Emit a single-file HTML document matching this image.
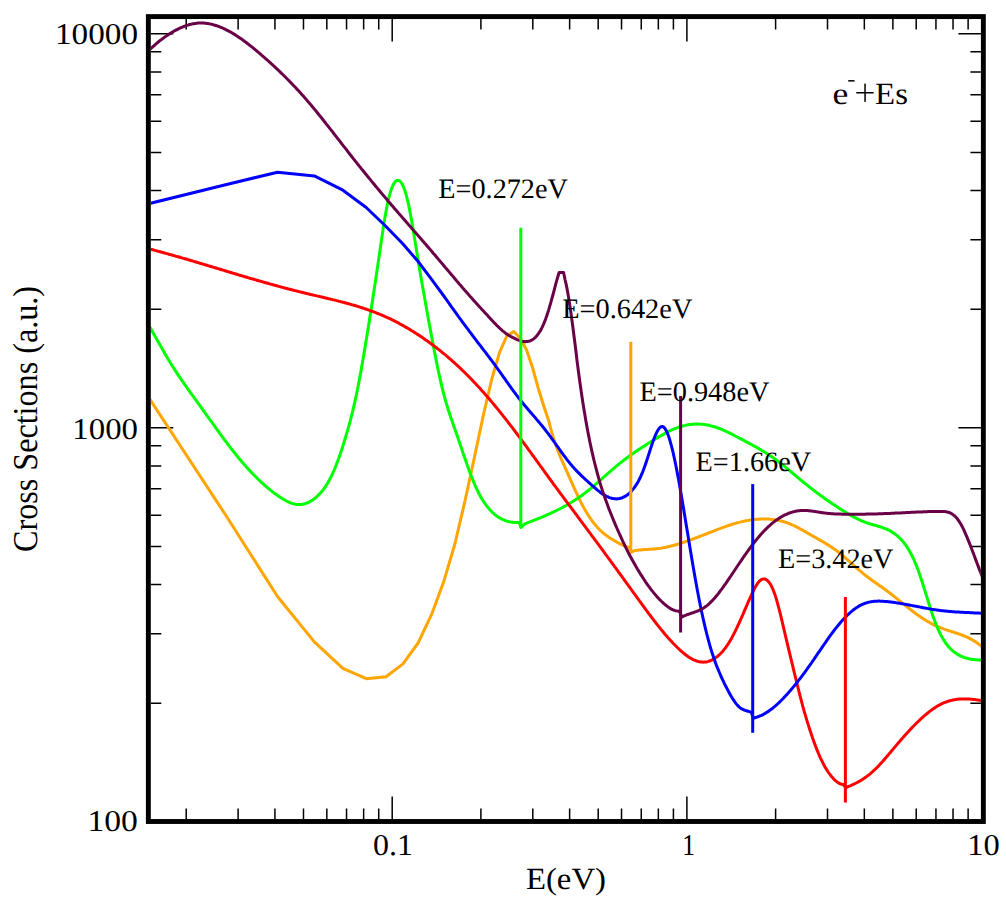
<!DOCTYPE html>
<html><head><meta charset="utf-8"><style>
html,body{margin:0;padding:0;background:#fff;}
svg{display:block;}
text{font-family:"Liberation Serif", serif; fill:#000;}
</style></head><body>
<svg width="1006" height="909" viewBox="0 0 1006 909" text-rendering="geometricPrecision">
<rect width="1006" height="909" fill="#fff"/>

<path d="M150.80 703.19L161.30 703.19M980.90 703.19L970.40 703.19M150.80 633.81L161.30 633.81M980.90 633.81L970.40 633.81M150.80 584.59L161.30 584.59M980.90 584.59L970.40 584.59M150.80 546.41L161.30 546.41M980.90 546.41L970.40 546.41M150.80 515.21L161.30 515.21M980.90 515.21L970.40 515.21M150.80 488.83L161.30 488.83M980.90 488.83L970.40 488.83M150.80 465.98L161.30 465.98M980.90 465.98L970.40 465.98M150.80 445.83L161.30 445.83M980.90 445.83L970.40 445.83M150.80 309.19L161.30 309.19M980.90 309.19L970.40 309.19M150.80 239.81L161.30 239.81M980.90 239.81L970.40 239.81M150.80 190.59L161.30 190.59M980.90 190.59L970.40 190.59M150.80 152.41L161.30 152.41M980.90 152.41L970.40 152.41M150.80 121.21L161.30 121.21M980.90 121.21L970.40 121.21M150.80 94.83L161.30 94.83M980.90 94.83L970.40 94.83M150.80 71.98L161.30 71.98M980.90 71.98L970.40 71.98M150.80 51.83L161.30 51.83M980.90 51.83L970.40 51.83M150.80 427.80L173.30 427.80M980.90 427.80L958.40 427.80M150.80 33.80L173.30 33.80M980.90 33.80L958.40 33.80M186.21 819.05L186.21 808.55M186.21 19.05L186.21 29.55M238.11 819.05L238.11 808.55M238.11 19.05L238.11 29.55M274.93 819.05L274.93 808.55M274.93 19.05L274.93 29.55M303.49 819.05L303.49 808.55M303.49 19.05L303.49 29.55M326.82 819.05L326.82 808.55M326.82 19.05L326.82 29.55M346.55 819.05L346.55 808.55M346.55 19.05L346.55 29.55M363.64 819.05L363.64 808.55M363.64 19.05L363.64 29.55M378.72 819.05L378.72 808.55M378.72 19.05L378.72 29.55M392.20 819.05L392.20 796.55M392.20 19.05L392.20 41.55M480.91 819.05L480.91 808.55M480.91 19.05L480.91 29.55M532.81 819.05L532.81 808.55M532.81 19.05L532.81 29.55M569.63 819.05L569.63 808.55M569.63 19.05L569.63 29.55M598.19 819.05L598.19 808.55M598.19 19.05L598.19 29.55M621.52 819.05L621.52 808.55M621.52 19.05L621.52 29.55M641.25 819.05L641.25 808.55M641.25 19.05L641.25 29.55M658.34 819.05L658.34 808.55M658.34 19.05L658.34 29.55M673.42 819.05L673.42 808.55M673.42 19.05L673.42 29.55M686.90 819.05L686.90 796.55M686.90 19.05L686.90 41.55M775.61 819.05L775.61 808.55M775.61 19.05L775.61 29.55M827.51 819.05L827.51 808.55M827.51 19.05L827.51 29.55M864.33 819.05L864.33 808.55M864.33 19.05L864.33 29.55M892.89 819.05L892.89 808.55M892.89 19.05L892.89 29.55M916.22 819.05L916.22 808.55M916.22 19.05L916.22 29.55M935.95 819.05L935.95 808.55M935.95 19.05L935.95 29.55M953.04 819.05L953.04 808.55M953.04 19.05L953.04 29.55M968.12 819.05L968.12 808.55M968.12 19.05L968.12 29.55" stroke="#000" stroke-width="1.5" fill="none"/>
<defs><clipPath id="pc"><rect x="150.8" y="19" width="830.1" height="800.1"/></clipPath></defs>
<g clip-path="url(#pc)">
<path d="M136.9 379.5 225.6 515.0 277.5 596.5 314.3 641.9 342.9 668.3 366.2 678.7 386.0 676.7 403.0 663.9 418.1 643.0 431.6 614.4 443.8 581.4 454.9 544.0 465.2 500.0 474.7 456.0 483.5 414.5 491.8 379.0 499.5 352.5 506.8 336.0 513.7 331.5 520.3 338.2 526.6 350.0 532.5 367.5 538.2 388.0 543.6 405.5 548.9 421.5 549.9 425.5 550.9 429.3 551.9 432.9 552.9 436.2 553.9 439.4 554.9 442.4 555.9 445.3 556.9 448.0 557.9 450.6 558.9 453.1 559.8 455.5 560.8 457.8 561.8 460.1 562.8 462.4 563.8 464.6 564.8 466.8 565.8 469.1 566.8 471.3 567.8 473.6 568.8 475.9 569.8 478.1 570.8 480.4 571.8 482.7 572.8 484.9 573.8 487.2 574.8 489.4 575.8 491.6 576.8 493.7 577.8 495.8 578.8 497.9 579.7 500.0 580.7 501.9 581.7 503.9 582.7 505.8 583.7 507.6 584.7 509.4 585.7 511.1 586.7 512.8 587.7 514.4 588.7 515.9 589.7 517.4 590.7 518.9 591.7 520.3 592.7 521.7 593.7 523.0 594.7 524.2 595.7 525.4 596.7 526.6 597.7 527.7 598.7 528.7 599.6 529.7 600.6 530.7 601.6 531.6 602.6 532.5 603.6 533.3 604.6 534.1 605.6 534.9 606.6 535.6 607.6 536.4 608.6 537.0 609.6 537.7 610.6 538.4 611.6 539.0 612.6 539.6 613.6 540.2 614.6 540.8 615.6 541.4 616.6 542.0 617.6 542.5 618.6 543.1 619.5 543.6 620.5 544.1 621.5 544.6 622.5 545.0 623.5 545.5 624.5 545.9 625.5 546.3 626.5 546.6 627.5 546.9 628.5 547.2 629.5 547.5 630.8 552.3 634.0 550.8 635.0 550.6 636.0 550.5 637.0 550.3 638.0 550.2 639.0 550.1 640.0 550.0 641.0 549.9 642.0 549.8 643.0 549.7 644.0 549.6 645.0 549.6 646.0 549.5 647.0 549.4 648.0 549.4 649.0 549.3 650.0 549.2 651.0 549.2 652.0 549.1 653.0 549.0 654.0 549.0 655.0 548.9 656.0 548.8 657.0 548.7 658.0 548.6 659.0 548.5 660.0 548.3 661.0 548.2 662.0 548.0 663.0 547.8 664.0 547.7 665.0 547.5 666.0 547.3 667.0 547.0 668.0 546.8 669.0 546.6 670.0 546.3 671.0 546.1 672.0 545.8 673.0 545.5 674.0 545.3 675.0 545.0 676.0 544.7 677.0 544.4 678.0 544.1 679.0 543.8 680.0 543.5 681.0 543.1 682.0 542.8 683.0 542.5 684.0 542.1 685.0 541.8 686.0 541.4 687.0 541.1 688.0 540.7 689.0 540.4 690.0 540.0 691.0 539.7 692.0 539.3 693.0 538.9 694.0 538.6 695.0 538.2 696.0 537.8 697.0 537.5 698.0 537.1 699.0 536.7 700.0 536.3 701.0 535.9 702.0 535.6 703.0 535.2 704.0 534.8 705.0 534.4 706.0 534.0 707.0 533.6 708.0 533.2 709.0 532.8 710.0 532.4 711.0 532.0 712.0 531.7 713.0 531.3 714.0 530.9 715.0 530.5 716.0 530.1 717.0 529.7 718.0 529.3 719.0 528.9 720.0 528.6 721.0 528.2 722.0 527.8 723.0 527.4 724.0 527.1 725.0 526.7 726.0 526.4 727.0 526.0 728.0 525.7 729.0 525.3 730.0 525.0 731.0 524.7 732.0 524.3 733.0 524.0 734.0 523.7 735.0 523.4 736.0 523.2 737.0 522.9 738.0 522.6 739.0 522.4 740.0 522.1 741.0 521.9 742.0 521.6 743.0 521.4 744.0 521.2 745.0 521.0 746.0 520.8 747.0 520.6 748.0 520.4 749.0 520.3 750.0 520.1 751.0 520.0 752.0 519.8 753.0 519.7 754.0 519.6 755.0 519.5 756.0 519.4 757.0 519.3 758.0 519.2 759.0 519.2 760.0 519.1 761.0 519.1 762.0 519.0 763.0 519.0 764.0 519.0 765.0 519.0 766.0 519.0 767.0 519.1 768.0 519.1 769.0 519.1 770.0 519.2 771.0 519.3 772.0 519.4 773.0 519.5 774.0 519.6 775.0 519.8 776.0 519.9 777.0 520.1 778.0 520.3 779.0 520.5 780.0 520.7 781.0 520.9 782.0 521.2 783.0 521.5 784.0 521.8 785.0 522.1 786.0 522.4 787.0 522.7 788.0 523.1 789.0 523.5 790.0 523.9 791.0 524.3 792.0 524.8 793.0 525.2 794.0 525.7 795.0 526.2 796.0 526.7 797.0 527.2 798.0 527.7 799.0 528.2 800.0 528.8 801.0 529.3 802.0 529.9 803.0 530.4 804.0 531.0 805.0 531.6 806.0 532.1 807.0 532.7 808.0 533.3 809.0 533.9 810.0 534.4 811.0 535.0 812.0 535.6 813.0 536.1 814.0 536.7 815.0 537.3 816.0 537.8 817.0 538.4 818.0 539.0 819.0 539.5 820.0 540.1 821.0 540.7 822.0 541.3 823.0 541.8 824.0 542.4 825.0 543.0 826.0 543.6 827.0 544.2 828.0 544.9 829.0 545.5 830.0 546.2 831.0 546.8 832.0 547.5 833.0 548.2 834.0 548.9 835.0 549.6 836.0 550.3 837.0 551.1 838.0 551.8 839.0 552.6 840.0 553.4 841.0 554.2 842.0 555.1 843.0 555.9 844.0 556.7 845.0 557.6 846.0 558.5 847.0 559.4 848.0 560.2 849.0 561.1 850.0 562.0 851.0 562.9 852.0 563.8 853.0 564.7 854.0 565.6 855.0 566.5 856.0 567.4 857.0 568.3 858.0 569.1 859.0 570.0 860.0 570.9 861.0 571.7 862.0 572.5 863.0 573.4 864.0 574.2 865.0 575.0 866.0 575.7 867.0 576.5 868.0 577.3 869.0 578.0 870.0 578.7 871.0 579.5 872.0 580.2 873.0 580.9 874.0 581.6 875.0 582.4 876.0 583.1 877.0 583.8 878.0 584.5 879.0 585.2 880.0 585.9 881.0 586.6 882.0 587.3 883.0 588.0 884.0 588.7 885.0 589.5 886.0 590.2 887.0 590.9 888.0 591.7 889.0 592.4 890.0 593.2 891.0 594.0 892.0 594.7 893.0 595.5 894.0 596.3 895.0 597.1 896.0 597.9 897.0 598.7 898.0 599.5 899.0 600.4 900.0 601.2 901.0 602.0 902.0 602.8 903.0 603.6 904.0 604.4 905.0 605.2 906.0 606.0 907.0 606.8 908.0 607.6 909.0 608.4 910.0 609.2 911.0 610.0 912.0 610.7 913.0 611.5 914.0 612.3 915.0 613.0 916.0 613.7 917.0 614.4 918.0 615.2 919.0 615.9 920.0 616.5 921.0 617.2 922.0 617.9 923.0 618.5 924.0 619.2 925.0 619.8 926.0 620.4 927.0 621.0 928.0 621.6 929.0 622.2 930.0 622.7 931.0 623.3 932.0 623.8 933.0 624.3 934.0 624.8 935.0 625.3 936.0 625.8 937.0 626.3 938.0 626.7 939.0 627.1 940.0 627.5 941.0 627.9 942.0 628.3 943.0 628.7 944.0 629.1 945.0 629.4 946.0 629.8 947.0 630.1 948.0 630.4 949.0 630.7 950.0 631.1 951.0 631.4 952.0 631.7 953.0 632.0 954.0 632.3 955.0 632.7 956.0 633.0 957.0 633.3 958.0 633.6 959.0 634.0 960.0 634.3 961.0 634.7 962.0 635.1 963.0 635.5 964.0 635.9 965.0 636.3 966.0 636.7 967.0 637.1 968.0 637.6 969.0 638.1 970.0 638.6 971.0 639.1 972.0 639.7 973.0 640.3 974.0 640.9 975.0 641.5 976.0 642.1 977.0 642.8 978.0 643.5 979.0 644.3 980.0 645.1 981.0 645.9 982.0 646.7 983.0 647.6 984.0 648.6 985.0 649.5 986.0 650.5 987.0 651.6 988.0 652.7 989.0 653.8 990.0 655.0" stroke="#ffa500" stroke-width="3.0" fill="none" stroke-linejoin="round"/>
<path d="M136.9 307.0 137.9 308.4 138.9 309.8 139.9 311.3 140.9 312.8 141.9 314.3 142.9 315.8 143.9 317.4 144.9 319.0 145.9 320.6 146.9 322.3 147.9 323.9 148.9 325.6 149.9 327.3 150.9 329.0 151.9 330.7 152.9 332.5 153.9 334.2 154.9 336.0 155.9 337.7 156.9 339.5 157.9 341.2 158.9 343.0 159.9 344.8 160.9 346.5 161.9 348.3 162.9 350.0 163.9 351.7 164.8 353.5 165.8 355.2 166.8 356.9 167.8 358.5 168.8 360.2 169.8 361.8 170.8 363.5 171.8 365.1 172.8 366.7 173.8 368.2 174.8 369.8 175.8 371.3 176.8 372.9 177.8 374.4 178.8 375.9 179.8 377.3 180.8 378.8 181.8 380.3 182.8 381.7 183.8 383.2 184.8 384.6 185.8 386.0 186.8 387.5 187.8 388.9 188.8 390.3 189.8 391.7 190.8 393.1 191.8 394.5 192.8 395.9 193.8 397.2 194.8 398.6 195.8 400.0 196.8 401.4 197.8 402.8 198.8 404.1 199.8 405.5 200.8 406.9 201.8 408.3 202.8 409.7 203.8 411.1 204.8 412.5 205.8 413.9 206.8 415.3 207.8 416.7 208.8 418.1 209.8 419.5 210.8 420.9 211.8 422.2 212.8 423.6 213.8 425.0 214.8 426.4 215.8 427.8 216.8 429.2 217.8 430.6 218.8 431.9 219.7 433.3 220.7 434.7 221.7 436.0 222.7 437.4 223.7 438.7 224.7 440.1 225.7 441.4 226.7 442.7 227.7 444.1 228.7 445.4 229.7 446.7 230.7 448.0 231.7 449.2 232.7 450.5 233.7 451.8 234.7 453.0 235.7 454.3 236.7 455.5 237.7 456.7 238.7 458.0 239.7 459.2 240.7 460.3 241.7 461.5 242.7 462.7 243.7 463.9 244.7 465.0 245.7 466.1 246.7 467.3 247.7 468.4 248.7 469.5 249.7 470.6 250.7 471.6 251.7 472.7 252.7 473.7 253.7 474.8 254.7 475.8 255.7 476.8 256.7 477.8 257.7 478.8 258.7 479.8 259.7 480.7 260.7 481.7 261.7 482.6 262.7 483.5 263.7 484.4 264.7 485.3 265.7 486.2 266.7 487.0 267.7 487.9 268.7 488.7 269.7 489.5 270.7 490.3 271.7 491.1 272.7 491.9 273.6 492.6 274.6 493.4 275.6 494.1 276.6 494.8 277.6 495.5 278.6 496.2 279.6 496.9 280.6 497.5 281.6 498.2 282.6 498.8 283.6 499.4 284.6 500.0 285.6 500.5 286.6 501.1 287.6 501.6 288.6 502.0 289.6 502.5 290.6 502.9 291.6 503.2 292.6 503.6 293.6 503.8 294.6 504.1 295.6 504.3 296.6 504.4 297.6 504.5 298.6 504.6 299.6 504.5 300.6 504.5 301.6 504.4 302.6 504.2 303.6 504.0 304.6 503.8 305.6 503.5 306.6 503.1 307.6 502.7 308.6 502.3 309.6 501.8 310.6 501.2 311.6 500.6 312.6 500.0 313.6 499.3 314.6 498.5 315.6 497.7 316.6 496.8 317.6 495.9 318.6 494.9 319.6 493.9 320.6 492.8 321.6 491.7 322.6 490.5 323.6 489.2 324.6 487.8 325.6 486.4 326.6 484.8 327.6 483.2 328.5 481.5 329.5 479.7 330.5 477.8 331.5 475.8 332.5 473.7 333.5 471.5 334.5 469.2 335.5 466.7 336.5 464.2 337.5 461.6 338.5 458.9 339.5 456.1 340.5 453.2 341.5 450.2 342.5 447.2 343.5 444.0 344.5 440.8 345.5 437.5 346.5 434.2 347.5 430.7 348.5 427.2 349.5 423.6 350.5 419.8 351.5 415.9 352.5 411.9 353.5 407.7 354.5 403.4 355.5 398.9 356.5 394.2 357.5 389.3 358.5 384.2 359.5 379.0 360.5 373.6 361.5 368.0 362.5 362.3 363.5 356.5 364.5 350.6 365.5 344.5 366.5 338.4 367.5 332.3 368.5 326.0 369.5 319.7 370.5 313.4 371.5 307.0 372.5 300.5 373.5 294.0 374.5 287.5 375.5 280.8 376.5 274.1 377.5 267.3 378.5 260.5 379.5 253.6 380.5 246.7 381.5 239.9 382.5 233.3 383.4 226.8 384.4 220.6 385.4 214.7 386.4 209.3 387.4 204.2 388.4 199.7 389.4 195.7 390.4 192.2 391.4 189.1 392.4 186.6 393.4 184.4 394.4 182.8 395.4 181.5 396.4 180.7 397.4 180.3 398.4 180.3 399.4 180.8 400.4 181.6 401.4 182.9 402.4 184.6 403.4 186.7 404.4 189.3 405.4 192.3 406.4 195.7 407.4 199.6 408.4 204.0 409.4 208.8 410.4 214.0 411.4 219.5 412.4 225.3 413.4 231.3 414.4 237.4 415.4 243.6 416.4 249.8 417.4 256.0 418.4 262.1 419.4 268.0 420.4 273.9 421.4 279.7 422.4 285.4 423.4 291.1 424.4 296.7 425.4 302.4 426.4 308.0 427.4 313.6 428.4 319.2 429.4 324.7 430.4 330.1 431.4 335.5 432.4 340.8 433.4 346.1 434.4 351.2 435.4 356.3 436.4 361.2 437.3 366.1 438.3 370.8 439.3 375.4 440.3 379.8 441.3 384.2 442.3 388.3 443.3 392.3 444.3 396.2 445.3 399.9 446.3 403.3 447.3 406.7 448.3 409.9 449.3 413.0 450.3 416.0 451.3 418.9 452.3 421.8 453.3 424.7 454.3 427.5 455.3 430.3 456.3 433.2 457.3 436.1 458.3 439.0 459.3 441.9 460.3 444.9 461.3 447.8 462.3 450.7 463.3 453.7 464.3 456.6 465.3 459.5 466.3 462.3 467.3 465.2 468.3 467.9 469.3 470.7 470.3 473.4 471.3 476.0 472.3 478.6 473.3 481.1 474.3 483.5 475.3 485.8 476.3 488.1 477.3 490.2 478.3 492.3 479.3 494.2 480.3 496.1 481.3 497.9 482.3 499.5 483.3 501.1 484.3 502.6 485.3 504.0 486.3 505.4 487.3 506.7 488.3 507.9 489.3 509.1 490.3 510.2 491.3 511.2 492.2 512.2 493.2 513.2 494.2 514.0 495.2 514.9 496.2 515.6 497.2 516.4 498.2 517.0 499.2 517.7 500.2 518.2 501.2 518.8 502.2 519.3 503.2 519.7 504.2 520.1 505.2 520.5 506.2 520.9 507.2 521.2 508.2 521.4 509.2 521.7 510.2 521.9 511.2 522.1 512.2 522.2 513.2 522.3 514.2 522.4 515.2 522.5 516.2 522.6 517.2 522.6 518.2 522.6 519.2 522.6 521.0 527.5 524.5 524.1 525.5 523.7 526.5 523.3 527.5 522.9 528.5 522.5 529.5 522.1 530.5 521.7 531.5 521.3 532.5 520.9 533.5 520.5 534.5 520.1 535.5 519.7 536.5 519.3 537.5 518.9 538.5 518.5 539.5 518.1 540.5 517.7 541.5 517.3 542.5 516.8 543.5 516.4 544.5 516.0 545.5 515.6 546.5 515.1 547.5 514.7 548.5 514.2 549.5 513.8 550.5 513.3 551.5 512.9 552.5 512.4 553.5 511.9 554.5 511.5 555.5 511.0 556.5 510.5 557.5 510.0 558.5 509.5 559.5 509.0 560.5 508.5 561.5 508.0 562.5 507.4 563.5 506.9 564.5 506.3 565.5 505.8 566.5 505.2 567.5 504.7 568.5 504.1 569.5 503.5 570.5 502.9 571.4 502.3 572.4 501.7 573.4 501.1 574.4 500.4 575.4 499.8 576.4 499.1 577.4 498.5 578.4 497.8 579.4 497.1 580.4 496.4 581.4 495.7 582.4 495.0 583.4 494.2 584.4 493.5 585.4 492.7 586.4 492.0 587.4 491.2 588.4 490.4 589.4 489.6 590.4 488.8 591.4 487.9 592.4 487.1 593.4 486.2 594.4 485.4 595.4 484.5 596.4 483.7 597.4 482.8 598.4 481.9 599.4 481.0 600.4 480.1 601.4 479.3 602.4 478.4 603.4 477.5 604.4 476.6 605.4 475.7 606.4 474.8 607.4 473.9 608.4 473.0 609.4 472.1 610.4 471.3 611.4 470.4 612.4 469.5 613.4 468.7 614.4 467.8 615.4 467.0 616.4 466.1 617.4 465.3 618.4 464.5 619.4 463.7 620.4 462.9 621.4 462.1 622.4 461.3 623.4 460.5 624.4 459.7 625.4 459.0 626.4 458.2 627.4 457.5 628.4 456.8 629.4 456.0 630.4 455.3 631.4 454.6 632.4 453.9 633.4 453.2 634.4 452.5 635.4 451.8 636.4 451.2 637.4 450.5 638.4 449.8 639.4 449.1 640.4 448.5 641.4 447.8 642.4 447.2 643.4 446.5 644.4 445.9 645.4 445.2 646.4 444.6 647.4 444.0 648.4 443.3 649.4 442.7 650.4 442.1 651.4 441.4 652.4 440.8 653.4 440.2 654.4 439.6 655.4 438.9 656.4 438.3 657.4 437.7 658.4 437.1 659.4 436.5 660.4 436.0 661.4 435.4 662.4 434.8 663.4 434.3 664.4 433.7 665.3 433.2 666.3 432.7 667.3 432.1 668.3 431.6 669.3 431.1 670.3 430.7 671.3 430.2 672.3 429.7 673.3 429.3 674.3 428.9 675.3 428.5 676.3 428.1 677.3 427.7 678.3 427.3 679.3 427.0 680.3 426.7 681.3 426.4 682.3 426.1 683.3 425.8 684.3 425.6 685.3 425.4 686.3 425.1 687.3 425.0 688.3 424.8 689.3 424.6 690.3 424.5 691.3 424.4 692.3 424.3 693.3 424.2 694.3 424.1 695.3 424.1 696.3 424.1 697.3 424.1 698.3 424.1 699.3 424.1 700.3 424.2 701.3 424.2 702.3 424.3 703.3 424.4 704.3 424.5 705.3 424.7 706.3 424.8 707.3 425.0 708.3 425.2 709.3 425.4 710.3 425.7 711.3 425.9 712.3 426.2 713.3 426.5 714.3 426.8 715.3 427.1 716.3 427.4 717.3 427.8 718.3 428.1 719.3 428.5 720.3 428.9 721.3 429.3 722.3 429.7 723.3 430.2 724.3 430.6 725.3 431.0 726.3 431.5 727.3 432.0 728.3 432.5 729.3 432.9 730.3 433.4 731.3 433.9 732.3 434.4 733.3 434.9 734.3 435.5 735.3 436.0 736.3 436.5 737.3 437.0 738.3 437.6 739.3 438.1 740.3 438.6 741.3 439.2 742.3 439.7 743.3 440.2 744.3 440.7 745.3 441.3 746.3 441.8 747.3 442.3 748.3 442.9 749.3 443.4 750.3 443.9 751.3 444.5 752.3 445.0 753.3 445.6 754.3 446.1 755.3 446.7 756.3 447.2 757.3 447.8 758.2 448.4 759.2 448.9 760.2 449.5 761.2 450.1 762.2 450.7 763.2 451.3 764.2 451.9 765.2 452.5 766.2 453.1 767.2 453.8 768.2 454.4 769.2 455.1 770.2 455.7 771.2 456.4 772.2 457.1 773.2 457.8 774.2 458.5 775.2 459.2 776.2 460.0 777.2 460.7 778.2 461.5 779.2 462.2 780.2 463.0 781.2 463.8 782.2 464.6 783.2 465.4 784.2 466.2 785.2 467.0 786.2 467.8 787.2 468.6 788.2 469.5 789.2 470.3 790.2 471.1 791.2 472.0 792.2 472.8 793.2 473.6 794.2 474.5 795.2 475.3 796.2 476.2 797.2 477.0 798.2 477.8 799.2 478.7 800.2 479.5 801.2 480.3 802.2 481.2 803.2 482.0 804.2 482.8 805.2 483.6 806.2 484.4 807.2 485.2 808.2 486.0 809.2 486.8 810.2 487.6 811.2 488.4 812.2 489.2 813.2 489.9 814.2 490.7 815.2 491.5 816.2 492.2 817.2 493.0 818.2 493.7 819.2 494.4 820.2 495.2 821.2 495.9 822.2 496.6 823.2 497.3 824.2 498.0 825.2 498.8 826.2 499.5 827.2 500.2 828.2 500.9 829.2 501.6 830.2 502.2 831.2 502.9 832.2 503.6 833.2 504.3 834.2 504.9 835.2 505.6 836.2 506.3 837.2 506.9 838.2 507.6 839.2 508.2 840.2 508.9 841.2 509.5 842.2 510.2 843.2 510.8 844.2 511.4 845.2 512.0 846.2 512.6 847.2 513.2 848.2 513.8 849.2 514.4 850.2 515.0 851.2 515.6 852.1 516.1 853.1 516.7 854.1 517.2 855.1 517.7 856.1 518.2 857.1 518.7 858.1 519.2 859.1 519.7 860.1 520.1 861.1 520.6 862.1 521.0 863.1 521.4 864.1 521.8 865.1 522.2 866.1 522.6 867.1 522.9 868.1 523.3 869.1 523.6 870.1 523.9 871.1 524.2 872.1 524.5 873.1 524.8 874.1 525.1 875.1 525.3 876.1 525.6 877.1 525.9 878.1 526.2 879.1 526.5 880.1 526.8 881.1 527.1 882.1 527.4 883.1 527.8 884.1 528.2 885.1 528.5 886.1 529.0 887.1 529.4 888.1 529.9 889.1 530.4 890.1 530.9 891.1 531.5 892.1 532.1 893.1 532.7 894.1 533.4 895.1 534.1 896.1 534.9 897.1 535.7 898.1 536.6 899.1 537.5 900.1 538.5 901.1 539.5 902.1 540.6 903.1 541.8 904.1 543.0 905.1 544.3 906.1 545.7 907.1 547.2 908.1 548.8 909.1 550.4 910.1 552.2 911.1 554.0 912.1 556.0 913.1 558.0 914.1 560.2 915.1 562.5 916.1 564.9 917.1 567.4 918.1 570.1 919.1 572.8 920.1 575.7 921.1 578.7 922.1 581.8 923.1 584.9 924.1 588.1 925.1 591.3 926.1 594.6 927.1 597.8 928.1 601.0 929.1 604.2 930.1 607.4 931.1 610.5 932.1 613.5 933.1 616.4 934.1 619.3 935.1 621.9 936.1 624.5 937.1 626.9 938.1 629.2 939.1 631.4 940.1 633.5 941.1 635.4 942.1 637.2 943.1 638.9 944.1 640.5 945.1 642.1 946.0 643.5 947.0 644.8 948.0 646.0 949.0 647.2 950.0 648.3 951.0 649.3 952.0 650.2 953.0 651.1 954.0 651.9 955.0 652.6 956.0 653.3 957.0 654.0 958.0 654.6 959.0 655.1 960.0 655.7 961.0 656.2 962.0 656.6 963.0 657.0 964.0 657.4 965.0 657.7 966.0 658.1 967.0 658.3 968.0 658.6 969.0 658.8 970.0 659.0 971.0 659.2 972.0 659.4 973.0 659.5 974.0 659.6 975.0 659.7 976.0 659.8 977.0 659.8 978.0 659.9 979.0 659.9 980.0 659.9 981.0 659.9 982.0 659.9 983.0 659.9 984.0 659.9 985.0 659.9 986.0 659.8 987.0 659.8 988.0 659.8 989.0 659.7 990.0 659.7 991.0 659.6 992.0 659.6" stroke="#00ff00" stroke-width="3.0" fill="none" stroke-linejoin="round"/>
<path d="M136.9 245.5 137.9 245.8 138.9 246.0 139.9 246.3 140.9 246.6 141.9 246.9 142.9 247.1 143.9 247.4 144.9 247.7 145.9 247.9 146.9 248.2 147.9 248.5 148.9 248.7 149.9 249.0 150.9 249.3 151.9 249.5 152.9 249.8 153.9 250.1 154.9 250.4 155.9 250.6 156.9 250.9 157.9 251.2 158.9 251.4 159.9 251.7 160.9 252.0 161.9 252.3 162.9 252.5 163.9 252.8 164.9 253.1 165.9 253.4 166.9 253.6 167.9 253.9 168.9 254.2 169.9 254.5 170.9 254.7 171.9 255.0 172.9 255.3 173.9 255.6 174.9 255.9 175.9 256.2 176.9 256.4 177.9 256.7 178.9 257.0 179.9 257.3 180.9 257.6 181.9 257.9 182.9 258.2 183.9 258.4 184.9 258.7 185.9 259.0 186.9 259.3 187.9 259.6 188.9 259.9 189.9 260.2 190.9 260.5 191.9 260.8 192.9 261.1 193.9 261.4 194.9 261.7 195.9 262.0 196.9 262.3 197.9 262.6 198.9 262.9 199.9 263.2 200.9 263.5 201.9 263.8 202.9 264.1 203.9 264.4 204.9 264.7 205.9 265.0 206.9 265.3 207.9 265.6 208.9 265.9 209.9 266.2 210.9 266.5 211.9 266.8 212.9 267.1 213.9 267.4 214.9 267.7 215.9 268.0 216.9 268.3 217.9 268.6 218.9 268.9 219.9 269.2 220.9 269.5 221.9 269.8 222.9 270.1 223.9 270.4 224.9 270.7 225.8 271.0 226.8 271.3 227.8 271.6 228.8 271.9 229.8 272.2 230.8 272.5 231.8 272.8 232.8 273.1 233.8 273.4 234.8 273.7 235.8 274.0 236.8 274.3 237.8 274.6 238.8 274.9 239.8 275.2 240.8 275.5 241.8 275.8 242.8 276.1 243.8 276.4 244.8 276.7 245.8 277.0 246.8 277.3 247.8 277.6 248.8 277.9 249.8 278.2 250.8 278.5 251.8 278.8 252.8 279.0 253.8 279.3 254.8 279.6 255.8 279.9 256.8 280.2 257.8 280.5 258.8 280.8 259.8 281.1 260.8 281.3 261.8 281.6 262.8 281.9 263.8 282.2 264.8 282.5 265.8 282.8 266.8 283.0 267.8 283.3 268.8 283.6 269.8 283.9 270.8 284.2 271.8 284.4 272.8 284.7 273.8 285.0 274.8 285.3 275.8 285.5 276.8 285.8 277.8 286.1 278.8 286.4 279.8 286.6 280.8 286.9 281.8 287.2 282.8 287.4 283.8 287.7 284.8 288.0 285.8 288.2 286.8 288.5 287.8 288.8 288.8 289.0 289.8 289.3 290.8 289.5 291.8 289.8 292.8 290.1 293.8 290.3 294.8 290.6 295.8 290.8 296.8 291.1 297.8 291.3 298.8 291.6 299.8 291.8 300.8 292.1 301.8 292.3 302.8 292.5 303.8 292.8 304.8 293.0 305.8 293.3 306.8 293.5 307.8 293.8 308.8 294.0 309.8 294.2 310.8 294.5 311.8 294.7 312.8 294.9 313.8 295.2 314.8 295.4 315.8 295.6 316.8 295.9 317.8 296.1 318.8 296.3 319.8 296.6 320.8 296.8 321.8 297.0 322.8 297.3 323.8 297.5 324.8 297.7 325.8 298.0 326.8 298.2 327.8 298.5 328.8 298.7 329.8 298.9 330.8 299.2 331.8 299.4 332.8 299.7 333.8 299.9 334.8 300.1 335.8 300.4 336.8 300.6 337.8 300.9 338.8 301.2 339.8 301.4 340.8 301.7 341.8 301.9 342.8 302.2 343.8 302.4 344.8 302.7 345.8 303.0 346.8 303.3 347.8 303.5 348.8 303.8 349.8 304.1 350.8 304.4 351.8 304.7 352.8 304.9 353.8 305.2 354.8 305.5 355.8 305.8 356.8 306.1 357.8 306.4 358.8 306.8 359.8 307.1 360.8 307.4 361.8 307.7 362.8 308.0 363.8 308.4 364.8 308.7 365.8 309.0 366.8 309.4 367.8 309.7 368.8 310.1 369.8 310.4 370.8 310.8 371.8 311.2 372.8 311.5 373.8 311.9 374.8 312.3 375.8 312.7 376.8 313.1 377.8 313.5 378.8 313.9 379.8 314.3 380.8 314.7 381.8 315.1 382.8 315.5 383.8 316.0 384.8 316.4 385.8 316.9 386.8 317.3 387.8 317.8 388.8 318.2 389.8 318.7 390.8 319.2 391.8 319.7 392.8 320.1 393.8 320.6 394.8 321.1 395.8 321.7 396.8 322.2 397.8 322.7 398.8 323.2 399.8 323.8 400.8 324.3 401.8 324.8 402.7 325.4 403.7 325.9 404.7 326.5 405.7 327.1 406.7 327.7 407.7 328.2 408.7 328.8 409.7 329.4 410.7 330.0 411.7 330.7 412.7 331.3 413.7 331.9 414.7 332.5 415.7 333.2 416.7 333.8 417.7 334.4 418.7 335.1 419.7 335.8 420.7 336.4 421.7 337.1 422.7 337.8 423.7 338.5 424.7 339.2 425.7 339.9 426.7 340.6 427.7 341.3 428.7 342.0 429.7 342.7 430.7 343.5 431.7 344.2 432.7 344.9 433.7 345.7 434.7 346.5 435.7 347.2 436.7 348.0 437.7 348.8 438.7 349.6 439.7 350.3 440.7 351.1 441.7 352.0 442.7 352.8 443.7 353.6 444.7 354.4 445.7 355.2 446.7 356.1 447.7 356.9 448.7 357.8 449.7 358.7 450.7 359.5 451.7 360.4 452.7 361.3 453.7 362.2 454.7 363.1 455.7 364.0 456.7 364.9 457.7 365.8 458.7 366.8 459.7 367.7 460.7 368.6 461.7 369.6 462.7 370.6 463.7 371.5 464.7 372.5 465.7 373.5 466.7 374.5 467.7 375.5 468.7 376.5 469.7 377.5 470.7 378.5 471.7 379.6 472.7 380.6 473.7 381.7 474.7 382.7 475.7 383.8 476.7 384.9 477.7 386.0 478.7 387.0 479.7 388.1 480.7 389.2 481.7 390.4 482.7 391.5 483.7 392.6 484.7 393.7 485.7 394.9 486.7 396.0 487.7 397.2 488.7 398.3 489.7 399.5 490.7 400.7 491.7 401.9 492.7 403.1 493.7 404.3 494.7 405.5 495.7 406.7 496.7 407.9 497.7 409.1 498.7 410.3 499.7 411.6 500.7 412.8 501.7 414.1 502.7 415.3 503.7 416.6 504.7 417.8 505.7 419.1 506.7 420.4 507.7 421.7 508.7 423.0 509.7 424.3 510.7 425.6 511.7 426.9 512.7 428.2 513.7 429.5 514.7 430.8 515.7 432.2 516.7 433.5 517.7 434.8 518.7 436.2 519.7 437.5 520.7 438.9 521.7 440.2 522.7 441.6 523.7 442.9 524.7 444.3 525.7 445.7 526.7 447.0 527.7 448.4 528.7 449.8 529.7 451.1 530.7 452.5 531.7 453.9 532.7 455.3 533.7 456.7 534.7 458.1 535.7 459.4 536.7 460.8 537.7 462.2 538.7 463.6 539.7 465.0 540.7 466.4 541.7 467.7 542.7 469.1 543.7 470.5 544.7 471.9 545.7 473.3 546.7 474.7 547.7 476.0 548.7 477.4 549.7 478.8 550.7 480.2 551.7 481.5 552.7 482.9 553.7 484.3 554.7 485.6 555.7 487.0 556.7 488.4 557.7 489.7 558.7 491.1 559.7 492.4 560.7 493.8 561.7 495.1 562.7 496.5 563.7 497.8 564.7 499.2 565.7 500.5 566.7 501.9 567.7 503.2 568.7 504.5 569.7 505.9 570.7 507.2 571.7 508.6 572.7 509.9 573.7 511.2 574.7 512.6 575.7 513.9 576.7 515.2 577.7 516.6 578.6 517.9 579.6 519.2 580.6 520.6 581.6 521.9 582.6 523.2 583.6 524.6 584.6 525.9 585.6 527.2 586.6 528.6 587.6 529.9 588.6 531.3 589.6 532.6 590.6 533.9 591.6 535.3 592.6 536.6 593.6 538.0 594.6 539.3 595.6 540.7 596.6 542.0 597.6 543.4 598.6 544.7 599.6 546.1 600.6 547.4 601.6 548.8 602.6 550.2 603.6 551.5 604.6 552.9 605.6 554.3 606.6 555.6 607.6 557.0 608.6 558.4 609.6 559.7 610.6 561.1 611.6 562.5 612.6 563.8 613.6 565.2 614.6 566.6 615.6 567.9 616.6 569.3 617.6 570.7 618.6 572.1 619.6 573.4 620.6 574.8 621.6 576.2 622.6 577.6 623.6 579.0 624.6 580.3 625.6 581.7 626.6 583.1 627.6 584.5 628.6 585.9 629.6 587.2 630.6 588.6 631.6 590.0 632.6 591.4 633.6 592.8 634.6 594.1 635.6 595.5 636.6 596.9 637.6 598.3 638.6 599.7 639.6 601.1 640.6 602.4 641.6 603.8 642.6 605.2 643.6 606.5 644.6 607.9 645.6 609.3 646.6 610.6 647.6 612.0 648.6 613.3 649.6 614.7 650.6 616.0 651.6 617.3 652.6 618.6 653.6 620.0 654.6 621.3 655.6 622.5 656.6 623.8 657.6 625.1 658.6 626.4 659.6 627.6 660.6 628.9 661.6 630.1 662.6 631.3 663.6 632.5 664.6 633.7 665.6 634.9 666.6 636.0 667.6 637.2 668.6 638.3 669.6 639.4 670.6 640.5 671.6 641.6 672.6 642.7 673.6 643.8 674.6 644.8 675.6 645.8 676.6 646.8 677.6 647.8 678.6 648.7 679.6 649.7 680.6 650.6 681.6 651.5 682.6 652.3 683.6 653.2 684.6 654.0 685.6 654.8 686.6 655.5 687.6 656.2 688.6 656.9 689.6 657.6 690.6 658.2 691.6 658.7 692.6 659.3 693.6 659.8 694.6 660.2 695.6 660.6 696.6 661.0 697.6 661.3 698.6 661.6 699.6 661.8 700.6 662.0 701.6 662.1 702.6 662.1 703.6 662.2 704.6 662.1 705.6 662.0 706.6 661.9 707.6 661.6 708.6 661.4 709.6 661.0 710.6 660.6 711.6 660.2 712.6 659.7 713.6 659.1 714.6 658.5 715.6 657.8 716.6 657.1 717.6 656.3 718.6 655.4 719.6 654.5 720.6 653.5 721.6 652.5 722.6 651.4 723.6 650.2 724.6 648.9 725.6 647.6 726.6 646.2 727.6 644.8 728.6 643.2 729.6 641.6 730.6 639.9 731.6 638.2 732.6 636.3 733.6 634.4 734.6 632.5 735.6 630.4 736.6 628.4 737.6 626.2 738.6 624.1 739.6 621.9 740.6 619.6 741.6 617.4 742.6 615.1 743.6 612.8 744.6 610.4 745.6 608.1 746.6 605.8 747.6 603.5 748.6 601.2 749.6 599.0 750.6 596.8 751.6 594.6 752.6 592.5 753.6 590.5 754.6 588.5 755.5 586.7 756.5 585.1 757.5 583.5 758.5 582.2 759.5 581.1 760.5 580.2 761.5 579.5 762.5 579.1 763.5 578.9 764.5 578.9 765.5 579.2 766.5 579.8 767.5 580.6 768.5 581.6 769.5 582.9 770.5 584.4 771.5 586.3 772.5 588.4 773.5 590.7 774.5 593.4 775.5 596.4 776.5 599.6 777.5 603.1 778.5 606.8 779.5 610.7 780.5 614.7 781.5 618.9 782.5 623.1 783.5 627.4 784.5 631.7 785.5 636.0 786.5 640.2 787.5 644.4 788.5 648.6 789.5 652.8 790.5 656.9 791.5 661.1 792.5 665.2 793.5 669.3 794.5 673.4 795.5 677.5 796.5 681.6 797.5 685.7 798.5 689.7 799.5 693.7 800.5 697.6 801.5 701.4 802.5 705.2 803.5 708.8 804.5 712.3 805.5 715.7 806.5 719.1 807.5 722.4 808.5 725.6 809.5 728.8 810.5 731.8 811.5 734.8 812.5 737.7 813.5 740.6 814.5 743.4 815.5 746.0 816.5 748.6 817.5 751.1 818.5 753.5 819.5 755.8 820.5 758.1 821.5 760.2 822.5 762.2 823.5 764.1 824.5 766.0 825.5 767.7 826.5 769.4 827.5 771.0 828.5 772.5 829.5 773.9 830.5 775.2 831.5 776.5 832.5 777.6 833.5 778.7 834.5 779.8 835.5 780.7 836.5 781.5 837.5 782.3 838.5 782.9 839.5 783.5 840.5 783.9 841.5 784.3 842.5 784.5 843.5 784.6 845.6 787.6 847.2 787.0 848.2 786.6 849.2 786.2 850.2 785.8 851.2 785.3 852.2 784.9 853.2 784.4 854.2 784.0 855.2 783.5 856.2 783.0 857.2 782.5 858.2 781.9 859.2 781.4 860.2 780.8 861.2 780.2 862.2 779.6 863.2 778.9 864.2 778.3 865.2 777.6 866.2 776.9 867.2 776.1 868.2 775.4 869.2 774.6 870.2 773.8 871.2 772.9 872.2 772.0 873.2 771.1 874.2 770.2 875.2 769.2 876.2 768.3 877.2 767.3 878.2 766.2 879.2 765.2 880.2 764.1 881.2 763.0 882.2 761.9 883.2 760.8 884.1 759.7 885.1 758.5 886.1 757.4 887.1 756.2 888.1 755.0 889.1 753.9 890.1 752.7 891.1 751.5 892.1 750.3 893.1 749.1 894.1 747.9 895.1 746.7 896.1 745.6 897.1 744.4 898.1 743.2 899.1 742.0 900.1 740.9 901.1 739.7 902.1 738.6 903.1 737.4 904.1 736.3 905.1 735.2 906.1 734.1 907.1 733.0 908.1 731.9 909.1 730.8 910.1 729.7 911.1 728.6 912.1 727.6 913.1 726.5 914.1 725.5 915.1 724.5 916.1 723.5 917.1 722.5 918.1 721.5 919.1 720.6 920.1 719.6 921.1 718.7 922.1 717.8 923.1 716.9 924.1 716.0 925.1 715.1 926.1 714.3 927.1 713.5 928.1 712.7 929.1 711.9 930.1 711.1 931.1 710.4 932.1 709.6 933.1 708.9 934.1 708.2 935.1 707.6 936.1 706.9 937.1 706.3 938.1 705.7 939.1 705.2 940.1 704.6 941.1 704.1 942.1 703.6 943.1 703.2 944.1 702.7 945.1 702.3 946.1 702.0 947.1 701.6 948.1 701.3 949.1 701.0 950.1 700.7 951.1 700.4 952.1 700.2 953.1 700.0 954.1 699.8 955.1 699.6 956.0 699.4 957.0 699.3 958.0 699.2 959.0 699.1 960.0 699.0 961.0 699.0 962.0 698.9 963.0 698.9 964.0 698.9 965.0 698.9 966.0 698.9 967.0 698.9 968.0 699.0 969.0 699.0 970.0 699.1 971.0 699.2 972.0 699.3 973.0 699.4 974.0 699.5 975.0 699.6 976.0 699.7 977.0 699.9 978.0 700.0 979.0 700.2 980.0 700.3 981.0 700.5 982.0 700.7 983.0 700.8 984.0 701.0 985.0 701.2 986.0 701.4 987.0 701.6 988.0 701.8 989.0 701.9 990.0 702.1 991.0 702.3 992.0 702.5" stroke="#ff0000" stroke-width="3.0" fill="none" stroke-linejoin="round"/>
<path d="M136.9 206.6 225.6 184.7 277.5 172.2 314.3 175.9 342.9 190.2 366.2 207.5 386.0 226.5 403.0 244.0 418.1 261.5 431.6 279.4 443.8 296.0 444.8 297.4 445.8 298.8 446.8 300.2 447.8 301.6 448.8 303.0 449.8 304.4 450.8 305.9 451.8 307.3 452.8 308.7 453.8 310.0 454.8 311.4 455.8 312.8 456.8 314.2 457.8 315.6 458.8 317.0 459.8 318.4 460.8 319.7 461.8 321.1 462.8 322.5 463.8 323.8 464.8 325.2 465.8 326.5 466.8 327.9 467.8 329.2 468.8 330.5 469.8 331.9 470.8 333.2 471.8 334.5 472.8 335.8 473.8 337.1 474.7 338.4 475.7 339.7 476.7 341.0 477.7 342.3 478.7 343.6 479.7 344.9 480.7 346.2 481.7 347.5 482.7 348.8 483.7 350.1 484.7 351.4 485.7 352.7 486.7 354.0 487.7 355.3 488.7 356.6 489.7 358.0 490.7 359.3 491.7 360.6 492.7 362.0 493.7 363.3 494.7 364.7 495.7 366.1 496.7 367.5 497.7 368.9 498.7 370.3 499.7 371.7 500.7 373.1 501.7 374.5 502.7 375.9 503.7 377.3 504.7 378.7 505.7 380.2 506.7 381.6 507.7 383.0 508.7 384.4 509.7 385.8 510.7 387.2 511.7 388.6 512.7 390.0 513.7 391.3 514.7 392.7 515.7 394.0 516.7 395.4 517.7 396.7 518.7 398.0 519.7 399.3 520.7 400.5 521.7 401.8 522.7 403.0 523.7 404.3 524.7 405.5 525.7 406.6 526.7 407.8 527.7 409.0 528.7 410.2 529.7 411.3 530.7 412.5 531.7 413.6 532.7 414.8 533.7 415.9 534.7 417.1 535.7 418.2 536.6 419.4 537.6 420.6 538.6 421.7 539.6 422.9 540.6 424.1 541.6 425.3 542.6 426.5 543.6 427.8 544.6 429.0 545.6 430.3 546.6 431.6 547.6 432.9 548.6 434.2 549.6 435.6 550.6 436.9 551.6 438.3 552.6 439.7 553.6 441.1 554.6 442.5 555.6 443.9 556.6 445.3 557.6 446.7 558.6 448.1 559.6 449.5 560.6 450.9 561.6 452.3 562.6 453.7 563.6 455.1 564.6 456.4 565.6 457.7 566.6 459.1 567.6 460.4 568.6 461.6 569.6 462.9 570.6 464.1 571.6 465.3 572.6 466.5 573.6 467.6 574.6 468.7 575.6 469.8 576.6 470.9 577.6 471.9 578.6 472.9 579.6 473.9 580.6 474.9 581.6 475.9 582.6 476.8 583.6 477.7 584.6 478.7 585.6 479.6 586.6 480.5 587.6 481.4 588.6 482.3 589.6 483.2 590.6 484.1 591.6 485.0 592.6 485.9 593.6 486.7 594.6 487.6 595.6 488.5 596.6 489.3 597.5 490.1 598.5 490.9 599.5 491.7 600.5 492.5 601.5 493.2 602.5 493.9 603.5 494.5 604.5 495.2 605.5 495.7 606.5 496.3 607.5 496.7 608.5 497.2 609.5 497.6 610.5 497.9 611.5 498.2 612.5 498.5 613.5 498.6 614.5 498.8 615.5 498.8 616.5 498.9 617.5 498.8 618.5 498.7 619.5 498.6 620.5 498.3 621.5 498.0 622.5 497.7 623.5 497.2 624.5 496.7 625.5 496.2 626.5 495.5 627.5 494.8 628.5 494.0 629.5 493.1 630.5 492.1 631.5 491.1 632.5 489.9 633.5 488.7 634.5 487.4 635.5 485.9 636.5 484.4 637.5 482.7 638.5 481.0 639.5 479.0 640.5 477.0 641.5 474.7 642.5 472.4 643.5 469.8 644.5 467.1 645.5 464.3 646.5 461.3 647.5 458.2 648.5 455.1 649.5 452.0 650.5 448.9 651.5 445.9 652.5 442.9 653.5 440.1 654.5 437.5 655.5 435.0 656.5 432.9 657.5 430.9 658.5 429.3 659.4 428.0 660.4 427.1 661.4 426.6 662.4 426.5 663.4 426.9 664.4 427.8 665.4 429.2 666.4 431.0 667.4 433.2 668.4 435.8 669.4 438.8 670.4 442.1 671.4 445.8 672.4 449.7 673.4 454.0 674.4 458.5 675.4 463.3 676.4 468.2 677.4 473.4 678.4 478.8 679.4 484.3 680.4 490.0 681.4 495.8 682.4 501.7 683.4 507.6 684.4 513.7 685.4 519.8 686.4 525.9 687.4 532.0 688.4 538.1 689.4 544.2 690.4 550.2 691.4 556.2 692.4 562.2 693.4 568.0 694.4 573.8 695.4 579.5 696.4 585.0 697.4 590.5 698.4 595.7 699.4 600.9 700.4 605.8 701.4 610.7 702.4 615.3 703.4 619.9 704.4 624.2 705.4 628.4 706.4 632.5 707.4 636.4 708.4 640.2 709.4 643.8 710.4 647.3 711.4 650.6 712.4 653.8 713.4 656.8 714.4 659.7 715.4 662.5 716.4 665.2 717.4 667.7 718.4 670.2 719.4 672.5 720.4 674.8 721.3 677.0 722.3 679.1 723.3 681.2 724.3 683.3 725.3 685.3 726.3 687.2 727.3 689.2 728.3 691.1 729.3 692.9 730.3 694.7 731.3 696.4 732.3 698.1 733.3 699.7 734.3 701.2 735.3 702.6 736.3 703.9 737.3 705.1 738.3 706.1 739.3 707.1 740.3 707.9 741.3 708.6 742.3 709.1 743.3 709.6 744.3 710.0 745.3 710.4 746.3 710.7 747.3 711.0 748.3 711.3 749.3 711.6 750.3 711.9 751.3 712.3 753.3 718.2 756.5 717.2 757.5 716.9 758.5 716.5 759.5 716.1 760.5 715.7 761.5 715.3 762.5 714.8 763.5 714.3 764.5 713.7 765.5 713.1 766.5 712.5 767.5 711.9 768.5 711.2 769.5 710.5 770.5 709.8 771.5 709.1 772.5 708.3 773.5 707.5 774.5 706.6 775.5 705.8 776.5 704.9 777.5 704.0 778.5 703.1 779.5 702.1 780.4 701.2 781.4 700.2 782.4 699.2 783.4 698.2 784.4 697.1 785.4 696.1 786.4 695.0 787.4 693.9 788.4 692.8 789.4 691.6 790.4 690.5 791.4 689.3 792.4 688.1 793.4 686.9 794.4 685.7 795.4 684.5 796.4 683.3 797.4 682.0 798.4 680.7 799.4 679.4 800.4 678.1 801.4 676.8 802.4 675.5 803.4 674.1 804.4 672.8 805.4 671.4 806.4 670.0 807.4 668.6 808.4 667.2 809.4 665.8 810.4 664.4 811.4 663.0 812.4 661.5 813.4 660.1 814.4 658.6 815.4 657.1 816.4 655.7 817.4 654.2 818.4 652.7 819.4 651.3 820.4 649.8 821.4 648.4 822.4 646.9 823.4 645.4 824.4 644.0 825.4 642.6 826.4 641.1 827.3 639.7 828.3 638.3 829.3 636.9 830.3 635.5 831.3 634.2 832.3 632.8 833.3 631.5 834.3 630.2 835.3 628.9 836.3 627.6 837.3 626.4 838.3 625.2 839.3 624.0 840.3 622.8 841.3 621.6 842.3 620.5 843.3 619.4 844.3 618.3 845.3 617.3 846.3 616.3 847.3 615.3 848.3 614.3 849.3 613.4 850.3 612.5 851.3 611.6 852.3 610.8 853.3 610.0 854.3 609.2 855.3 608.5 856.3 607.8 857.3 607.2 858.3 606.5 859.3 605.9 860.3 605.4 861.3 604.9 862.3 604.4 863.3 604.0 864.3 603.6 865.3 603.2 866.3 602.9 867.3 602.6 868.3 602.3 869.3 602.1 870.3 601.9 871.3 601.7 872.3 601.6 873.3 601.4 874.2 601.3 875.2 601.3 876.2 601.2 877.2 601.2 878.2 601.1 879.2 601.1 880.2 601.2 881.2 601.2 882.2 601.2 883.2 601.3 884.2 601.4 885.2 601.4 886.2 601.5 887.2 601.6 888.2 601.7 889.2 601.8 890.2 602.0 891.2 602.1 892.2 602.2 893.2 602.3 894.2 602.5 895.2 602.6 896.2 602.8 897.2 602.9 898.2 603.1 899.2 603.2 900.2 603.4 901.2 603.6 902.2 603.7 903.2 603.9 904.2 604.1 905.2 604.3 906.2 604.4 907.2 604.6 908.2 604.8 909.2 605.0 910.2 605.2 911.2 605.4 912.2 605.6 913.2 605.8 914.2 605.9 915.2 606.1 916.2 606.3 917.2 606.5 918.2 606.7 919.2 606.9 920.2 607.1 921.2 607.3 922.1 607.5 923.1 607.7 924.1 607.9 925.1 608.0 926.1 608.2 927.1 608.4 928.1 608.6 929.1 608.8 930.1 608.9 931.1 609.1 932.1 609.3 933.1 609.4 934.1 609.6 935.1 609.7 936.1 609.9 937.1 610.0 938.1 610.2 939.1 610.3 940.1 610.4 941.1 610.6 942.1 610.7 943.1 610.8 944.1 610.9 945.1 611.0 946.1 611.1 947.1 611.2 948.1 611.3 949.1 611.4 950.1 611.5 951.1 611.6 952.1 611.7 953.1 611.7 954.1 611.8 955.1 611.9 956.1 611.9 957.1 612.0 958.1 612.1 959.1 612.1 960.1 612.2 961.1 612.2 962.1 612.3 963.1 612.3 964.1 612.4 965.1 612.5 966.1 612.5 967.1 612.6 968.1 612.6 969.0 612.6 970.0 612.7 971.0 612.7 972.0 612.8 973.0 612.8 974.0 612.9 975.0 612.9 976.0 613.0 977.0 613.0 978.0 613.1 979.0 613.1 980.0 613.2 981.0 613.2 982.0 613.3 983.0 613.4 984.0 613.4 985.0 613.5 986.0 613.5 987.0 613.6 988.0 613.7 989.0 613.8 990.0 613.8 991.0 613.9 992.0 614.0" stroke="#0000ff" stroke-width="3.0" fill="none" stroke-linejoin="round"/>
<path d="M136.9 63.0 137.9 61.9 138.9 60.8 139.9 59.7 140.9 58.6 141.9 57.5 142.9 56.4 143.9 55.4 144.9 54.4 145.9 53.3 146.9 52.3 147.9 51.4 148.9 50.4 149.9 49.4 150.9 48.5 151.9 47.6 152.9 46.7 153.9 45.8 154.9 44.9 155.9 44.0 156.9 43.2 157.9 42.3 158.9 41.5 159.9 40.7 160.9 39.9 161.9 39.2 162.9 38.4 163.9 37.7 164.9 36.9 165.9 36.2 166.9 35.6 167.9 34.9 168.9 34.2 169.9 33.6 170.9 33.0 171.9 32.4 172.9 31.8 173.9 31.2 174.9 30.7 175.9 30.1 176.9 29.6 177.9 29.1 178.9 28.6 179.9 28.1 180.9 27.7 181.9 27.3 182.9 26.9 183.9 26.5 184.9 26.1 185.9 25.7 186.9 25.4 187.9 25.1 188.9 24.8 189.9 24.5 190.9 24.3 191.9 24.0 192.9 23.8 193.9 23.7 194.9 23.5 195.9 23.4 196.9 23.2 197.9 23.1 198.9 23.1 199.9 23.0 200.9 23.0 201.9 23.0 202.9 23.0 203.9 23.1 204.9 23.2 205.9 23.3 206.9 23.4 207.8 23.5 208.8 23.7 209.8 23.9 210.8 24.1 211.8 24.3 212.8 24.6 213.8 24.9 214.8 25.2 215.8 25.5 216.8 25.8 217.8 26.1 218.8 26.5 219.8 26.9 220.8 27.3 221.8 27.7 222.8 28.2 223.8 28.6 224.8 29.1 225.8 29.6 226.8 30.1 227.8 30.6 228.8 31.1 229.8 31.7 230.8 32.2 231.8 32.8 232.8 33.4 233.8 34.0 234.8 34.6 235.8 35.3 236.8 35.9 237.8 36.6 238.8 37.2 239.8 37.9 240.8 38.6 241.8 39.3 242.8 40.0 243.8 40.8 244.8 41.5 245.8 42.2 246.8 43.0 247.8 43.8 248.8 44.5 249.8 45.3 250.8 46.1 251.8 46.9 252.8 47.7 253.8 48.5 254.8 49.3 255.8 50.2 256.8 51.0 257.8 51.8 258.8 52.7 259.8 53.5 260.8 54.4 261.8 55.3 262.8 56.1 263.8 57.0 264.8 57.9 265.8 58.8 266.8 59.7 267.8 60.5 268.8 61.4 269.8 62.3 270.8 63.2 271.8 64.2 272.8 65.1 273.8 66.0 274.8 66.9 275.8 67.9 276.8 68.8 277.8 69.7 278.8 70.7 279.8 71.6 280.8 72.6 281.8 73.6 282.8 74.5 283.8 75.5 284.8 76.5 285.8 77.5 286.8 78.5 287.8 79.5 288.8 80.5 289.8 81.6 290.8 82.6 291.8 83.6 292.8 84.7 293.8 85.7 294.8 86.8 295.8 87.8 296.8 88.9 297.8 90.0 298.8 91.1 299.8 92.2 300.8 93.3 301.8 94.4 302.8 95.5 303.8 96.6 304.8 97.8 305.8 98.9 306.8 100.1 307.8 101.3 308.8 102.4 309.8 103.6 310.8 104.8 311.8 106.0 312.8 107.2 313.8 108.4 314.8 109.6 315.8 110.8 316.8 112.0 317.8 113.3 318.8 114.5 319.8 115.8 320.8 117.0 321.8 118.3 322.8 119.5 323.8 120.8 324.8 122.0 325.8 123.3 326.8 124.6 327.8 125.8 328.8 127.1 329.8 128.4 330.8 129.7 331.8 130.9 332.8 132.2 333.8 133.5 334.8 134.8 335.8 136.1 336.8 137.4 337.8 138.7 338.8 139.9 339.8 141.2 340.8 142.5 341.8 143.8 342.8 145.1 343.8 146.4 344.8 147.6 345.8 148.9 346.8 150.2 347.7 151.5 348.7 152.7 349.7 154.0 350.7 155.3 351.7 156.5 352.7 157.8 353.7 159.1 354.7 160.3 355.7 161.6 356.7 162.8 357.7 164.1 358.7 165.3 359.7 166.6 360.7 167.8 361.7 169.1 362.7 170.3 363.7 171.5 364.7 172.8 365.7 174.0 366.7 175.2 367.7 176.5 368.7 177.7 369.7 178.9 370.7 180.1 371.7 181.4 372.7 182.6 373.7 183.8 374.7 185.0 375.7 186.2 376.7 187.4 377.7 188.6 378.7 189.8 379.7 191.0 380.7 192.2 381.7 193.4 382.7 194.6 383.7 195.8 384.7 196.9 385.7 198.1 386.7 199.3 387.7 200.5 388.7 201.7 389.7 202.8 390.7 204.0 391.7 205.2 392.7 206.3 393.7 207.5 394.7 208.7 395.7 209.8 396.7 211.0 397.7 212.1 398.7 213.3 399.7 214.4 400.7 215.6 401.7 216.7 402.7 217.9 403.7 219.0 404.7 220.2 405.7 221.3 406.7 222.5 407.7 223.6 408.7 224.8 409.7 225.9 410.7 227.1 411.7 228.2 412.7 229.4 413.7 230.5 414.7 231.7 415.7 232.8 416.7 234.0 417.7 235.1 418.7 236.3 419.7 237.4 420.7 238.6 421.7 239.7 422.7 240.9 423.7 242.0 424.7 243.2 425.7 244.3 426.7 245.5 427.7 246.7 428.7 247.8 429.7 249.0 430.7 250.1 431.7 251.3 432.7 252.5 433.7 253.7 434.7 254.8 435.7 256.0 436.7 257.2 437.7 258.4 438.7 259.6 439.7 260.8 440.7 261.9 441.7 263.1 442.7 264.3 443.7 265.5 444.7 266.7 445.7 267.9 446.7 269.0 447.7 270.2 448.7 271.4 449.7 272.6 450.7 273.8 451.7 275.0 452.7 276.1 453.7 277.3 454.7 278.5 455.7 279.7 456.7 280.9 457.7 282.0 458.7 283.2 459.7 284.4 460.7 285.5 461.7 286.7 462.7 287.9 463.7 289.0 464.7 290.2 465.7 291.3 466.7 292.5 467.7 293.6 468.7 294.7 469.7 295.9 470.7 297.0 471.7 298.1 472.7 299.3 473.7 300.4 474.7 301.5 475.7 302.6 476.7 303.7 477.7 304.8 478.7 305.9 479.7 307.0 480.7 308.1 481.7 309.2 482.7 310.2 483.7 311.3 484.7 312.4 485.7 313.5 486.7 314.6 487.6 315.6 488.6 316.7 489.6 317.8 490.6 318.9 491.6 319.9 492.6 321.0 493.6 322.1 494.6 323.1 495.6 324.1 496.6 325.2 497.6 326.2 498.6 327.1 499.6 328.1 500.6 329.0 501.6 329.9 502.6 330.8 503.6 331.6 504.6 332.4 505.6 333.2 506.6 333.9 507.6 334.5 508.6 335.2 509.6 335.8 510.6 336.4 511.6 336.9 512.6 337.4 513.6 337.9 514.6 338.4 515.6 338.9 516.6 339.4 517.6 339.8 518.6 340.2 519.6 340.5 520.6 340.9 521.6 341.1 522.6 341.4 523.6 341.5 524.6 341.6 525.6 341.7 526.6 341.6 527.6 341.5 528.6 341.3 529.6 341.1 530.6 340.7 531.6 340.2 532.6 339.6 533.6 338.9 534.6 338.1 535.6 337.1 536.6 336.0 537.6 334.8 538.6 333.4 539.6 331.9 540.6 330.2 541.6 328.4 542.6 326.3 543.6 324.1 544.6 321.7 545.6 319.1 546.6 316.3 547.6 313.2 548.6 310.1 549.6 306.7 550.6 303.3 551.6 299.7 552.6 296.0 553.6 292.3 554.6 288.5 555.6 284.7 556.6 280.9 559.1 272.5 563.6 272.5 565.0 279.5 566.0 283.6 567.0 288.5 568.0 293.9 569.0 300.0 570.0 306.5 571.0 313.4 572.0 320.7 573.0 328.2 574.0 336.0 575.0 343.8 576.0 351.8 576.9 359.6 577.9 367.4 578.9 375.0 579.9 382.3 580.9 389.4 581.9 396.2 582.9 402.8 583.9 409.1 584.9 415.1 585.9 420.9 586.9 426.5 587.9 431.9 588.9 437.0 589.9 442.0 590.9 446.8 591.9 451.3 592.9 455.7 593.9 460.0 594.9 464.0 595.9 467.9 596.9 471.7 597.9 475.3 598.9 478.8 599.8 482.2 600.8 485.4 601.8 488.6 602.8 491.6 603.8 494.6 604.8 497.5 605.8 500.3 606.8 503.0 607.8 505.7 608.8 508.4 609.8 511.0 610.8 513.5 611.8 516.0 612.8 518.5 613.8 520.9 614.8 523.3 615.8 525.7 616.8 528.0 617.8 530.2 618.8 532.5 619.8 534.7 620.8 536.9 621.8 539.0 622.7 541.1 623.7 543.2 624.7 545.3 625.7 547.3 626.7 549.3 627.7 551.3 628.7 553.3 629.7 555.2 630.7 557.1 631.7 558.9 632.7 560.7 633.7 562.5 634.7 564.3 635.7 566.1 636.7 567.8 637.7 569.5 638.7 571.1 639.7 572.8 640.7 574.4 641.7 575.9 642.7 577.5 643.7 579.0 644.7 580.5 645.6 582.0 646.6 583.4 647.6 584.8 648.6 586.2 649.6 587.5 650.6 588.9 651.6 590.2 652.6 591.4 653.6 592.7 654.6 593.9 655.6 595.1 656.6 596.2 657.6 597.4 658.6 598.4 659.6 599.5 660.6 600.5 661.6 601.5 662.6 602.4 663.6 603.3 664.6 604.2 665.6 605.0 666.6 605.8 667.6 606.6 668.5 607.3 669.5 607.9 670.5 608.6 671.5 609.1 672.5 609.6 673.5 610.0 674.5 610.4 675.5 610.7 676.5 610.9 677.5 611.1 678.5 611.2 679.5 611.2 681.8 617.2 682.6 616.6 683.6 616.1 684.6 615.7 685.6 615.3 686.6 614.9 687.6 614.5 688.6 614.2 689.6 613.8 690.6 613.5 691.6 613.1 692.6 612.8 693.6 612.5 694.6 612.1 695.6 611.7 696.6 611.4 697.6 611.0 698.6 610.6 699.6 610.1 700.6 609.6 701.6 609.1 702.6 608.6 703.6 608.0 704.6 607.3 705.6 606.6 706.6 605.9 707.6 605.1 708.5 604.3 709.5 603.4 710.5 602.4 711.5 601.4 712.5 600.4 713.5 599.3 714.5 598.2 715.5 597.0 716.5 595.8 717.5 594.6 718.5 593.3 719.5 592.0 720.5 590.7 721.5 589.4 722.5 588.0 723.5 586.6 724.5 585.2 725.5 583.8 726.5 582.3 727.5 580.9 728.5 579.4 729.5 577.9 730.5 576.5 731.5 575.0 732.5 573.5 733.5 572.0 734.5 570.5 735.5 569.0 736.5 567.5 737.5 566.0 738.5 564.5 739.5 563.0 740.5 561.6 741.5 560.1 742.5 558.6 743.5 557.2 744.5 555.7 745.5 554.3 746.5 552.9 747.5 551.5 748.5 550.1 749.5 548.7 750.5 547.3 751.5 546.0 752.5 544.7 753.5 543.4 754.5 542.1 755.5 540.8 756.5 539.6 757.5 538.4 758.5 537.2 759.5 536.1 760.4 534.9 761.4 533.8 762.4 532.7 763.4 531.6 764.4 530.6 765.4 529.6 766.4 528.6 767.4 527.6 768.4 526.7 769.4 525.8 770.4 524.9 771.4 524.0 772.4 523.2 773.4 522.4 774.4 521.6 775.4 520.8 776.4 520.1 777.4 519.4 778.4 518.7 779.4 518.0 780.4 517.4 781.4 516.8 782.4 516.3 783.4 515.7 784.4 515.2 785.4 514.7 786.4 514.3 787.4 513.8 788.4 513.4 789.4 513.0 790.4 512.7 791.4 512.4 792.4 512.1 793.4 511.8 794.4 511.6 795.4 511.3 796.4 511.1 797.4 511.0 798.4 510.8 799.4 510.7 800.4 510.6 801.4 510.5 802.4 510.5 803.4 510.5 804.4 510.5 805.4 510.5 806.4 510.6 807.4 510.6 808.4 510.7 809.4 510.8 810.4 510.9 811.3 511.0 812.3 511.1 813.3 511.3 814.3 511.4 815.3 511.6 816.3 511.7 817.3 511.9 818.3 512.0 819.3 512.2 820.3 512.4 821.3 512.5 822.3 512.7 823.3 512.8 824.3 512.9 825.3 513.1 826.3 513.2 827.3 513.3 828.3 513.4 829.3 513.5 830.3 513.6 831.3 513.7 832.3 513.7 833.3 513.8 834.3 513.9 835.3 513.9 836.3 514.0 837.3 514.0 838.3 514.1 839.3 514.1 840.3 514.1 841.3 514.1 842.3 514.2 843.3 514.2 844.3 514.2 845.3 514.2 846.3 514.2 847.3 514.2 848.3 514.3 849.3 514.3 850.3 514.3 851.3 514.3 852.3 514.3 853.3 514.3 854.3 514.3 855.3 514.3 856.3 514.3 857.3 514.3 858.3 514.2 859.3 514.2 860.3 514.2 861.3 514.2 862.2 514.2 863.2 514.2 864.2 514.2 865.2 514.2 866.2 514.1 867.2 514.1 868.2 514.1 869.2 514.1 870.2 514.1 871.2 514.0 872.2 514.0 873.2 514.0 874.2 514.0 875.2 513.9 876.2 513.9 877.2 513.9 878.2 513.8 879.2 513.8 880.2 513.8 881.2 513.7 882.2 513.7 883.2 513.7 884.2 513.6 885.2 513.6 886.2 513.5 887.2 513.5 888.2 513.5 889.2 513.4 890.2 513.4 891.2 513.3 892.2 513.3 893.2 513.2 894.2 513.2 895.2 513.1 896.2 513.1 897.2 513.1 898.2 513.0 899.2 513.0 900.2 512.9 901.2 512.9 902.2 512.8 903.2 512.8 904.2 512.7 905.2 512.7 906.2 512.6 907.2 512.5 908.2 512.5 909.2 512.4 910.2 512.4 911.2 512.3 912.2 512.3 913.1 512.3 914.1 512.2 915.1 512.2 916.1 512.1 917.1 512.1 918.1 512.0 919.1 512.0 920.1 511.9 921.1 511.9 922.1 511.9 923.1 511.8 924.1 511.8 925.1 511.7 926.1 511.7 927.1 511.7 928.1 511.6 929.1 511.6 930.1 511.6 931.1 511.6 932.1 511.5 933.1 511.5 934.1 511.5 935.1 511.5 936.1 511.5 937.1 511.5 938.1 511.4 939.1 511.4 940.1 511.4 941.1 511.4 942.1 511.4 943.1 511.5 944.1 511.5 945.1 511.6 946.1 511.8 947.1 512.0 948.1 512.2 949.1 512.5 950.1 512.9 951.1 513.4 952.1 514.0 953.1 514.7 954.1 515.4 955.1 516.3 956.1 517.4 957.1 518.5 958.1 519.8 959.1 521.3 960.1 522.9 961.1 524.6 962.1 526.4 963.1 528.4 964.1 530.4 965.0 532.6 966.0 534.9 967.0 537.2 968.0 539.6 969.0 542.1 970.0 544.6 971.0 547.2 972.0 549.8 973.0 552.4 974.0 555.1 975.0 557.8 976.0 560.4 977.0 563.1 978.0 565.8 979.0 568.4 980.0 571.0 981.0 573.5 982.0 576.0 983.0 578.3 984.0 580.6 985.0 582.8 986.0 584.9 987.0 586.9 988.0 588.8 989.0 590.5 990.0 592.0" stroke="#6a0048" stroke-width="3.0" fill="none" stroke-linejoin="round"/>
<path d="M520.8 227.7V527.5" stroke="#00ff00" stroke-width="3"/>
<path d="M630.8 341.8V552" stroke="#ffa500" stroke-width="3"/>
<path d="M680.6 396V632.5" stroke="#6a0048" stroke-width="3"/>
<path d="M752.7 484.1V732.8" stroke="#0000ff" stroke-width="3"/>
<path d="M845.4 597V802.6" stroke="#ff0000" stroke-width="3"/>
</g>
<rect x="148.35" y="16.6" width="835.0" height="804.9" fill="none" stroke="#000" stroke-width="4.9"/>
<text transform="translate(54.98,44.30) scale(1.1000,1)" font-size="30.2" >10000</text>
<text transform="translate(72.31,438.70) scale(1.0879,1)" font-size="30.2" >1000</text>
<text transform="translate(87.44,831.40) scale(1.1150,1)" font-size="30.2" >100</text>
<text transform="translate(373.12,854.50) scale(1.0596,1)" font-size="30.2" >0.1</text>
<text transform="translate(682.22,854.50) scale(0.8488,1)" font-size="30.2" >1</text>
<text transform="translate(967.23,854.70) scale(1.0785,1)" font-size="30.2" >10</text>
<text transform="translate(525.92,888.80) scale(1.0644,1)" font-size="30.8" >E(eV)</text>
<text transform="translate(438.35,198.20) scale(1.0043,1)" font-size="28.1" >E=0.272eV</text>
<text transform="translate(562.15,318.30) scale(1.0097,1)" font-size="28.1" >E=0.642eV</text>
<text transform="translate(639.55,401.30) scale(1.0066,1)" font-size="28.1" >E=0.948eV</text>
<text transform="translate(695.55,470.60) scale(1.0061,1)" font-size="28.1" >E=1.66eV</text>
<text transform="translate(778.05,568.30) scale(1.0035,1)" font-size="28.1" >E=3.42eV</text>
<text transform="translate(832.47,103.50) scale(1.1508,1)" font-size="31.0" >e</text>
<rect x="848.2" y="80.1" width="6.4" height="1.5" fill="#000"/>
<text transform="translate(875.11,103.50) scale(1.0592,1)" font-size="31.0" >Es</text>
<rect x="856.3" y="92.0" width="17.4" height="1.5" fill="#000"/>
<rect x="864.3" y="83.6" width="1.5" height="18.3" fill="#000"/>
<text transform="translate(36.95,551.89) rotate(-90) scale(0.9206,1)" font-size="34.9">Cross Sections (a.u.)</text>
</svg></body></html>
